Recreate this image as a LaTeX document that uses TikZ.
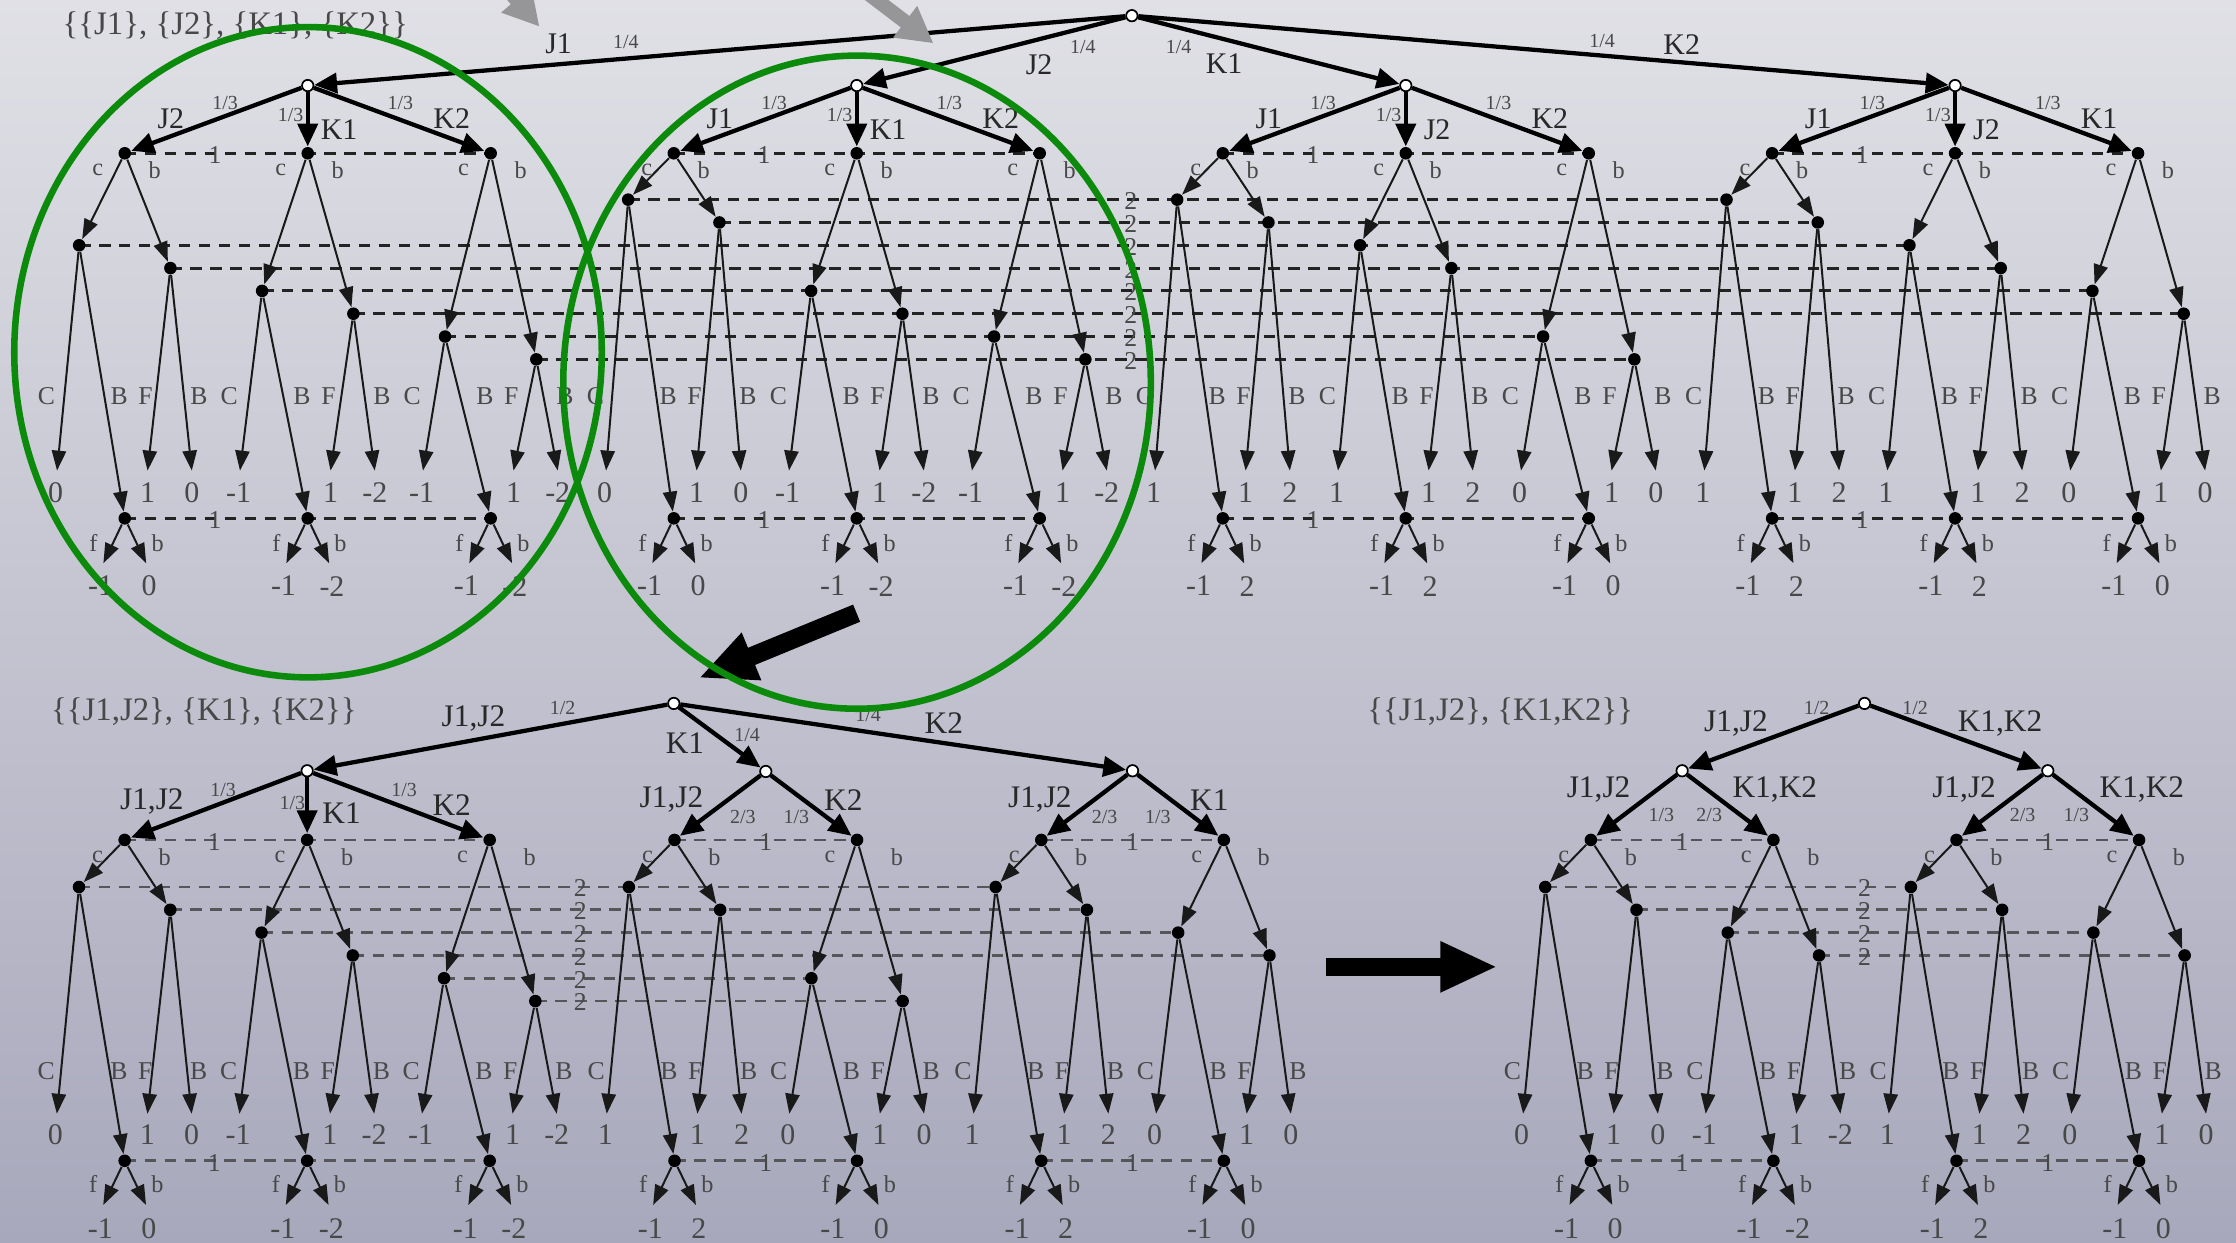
\documentclass[tikz,border=0pt]{standalone}
\usepackage{fontspec}
\setmainfont{Liberation Serif}
\usetikzlibrary{arrows.meta}
\pgfdeclarelayer{bgl}
\pgfdeclarelayer{dashl}
\pgfsetlayers{bgl,dashl,main}
\definecolor{bgtop}{RGB}{224,224,230}
\definecolor{bgbot}{RGB}{168,168,188}
\definecolor{lblc}{RGB}{40,40,40}
\definecolor{txtc}{RGB}{72,72,72}
\definecolor{edgec}{RGB}{25,25,25}
\definecolor{dashT}{RGB}{35,35,35}
\definecolor{dashB}{RGB}{85,85,90}
\definecolor{grn}{RGB}{12,138,12}
\definecolor{garr}{RGB}{150,150,152}
\tikzset{
 chance/.style={circle,draw=black,line width=0.6pt,fill=white,inner sep=0pt,minimum size=4pt},
 dec/.style={circle,fill=black,inner sep=0pt,minimum size=4.4pt},
 tedge/.style={line width=1.5pt,draw=black,-{Triangle[length=8pt,width=7pt]}},
 sedge/.style={line width=0.7pt,draw=edgec,-{Triangle[length=7pt,width=5pt]}},
 isetT/.style={line width=1pt,draw=dashT,dash pattern=on 4pt off 3pt},
 isetB/.style={line width=1pt,draw=dashB,dash pattern=on 4pt off 3pt},
 elab/.style={text=lblc,inner sep=0pt,font=\fontsize{10.5}{12}\selectfont},
 elabB/.style={text=lblc,inner sep=0pt,font=\fontsize{11}{13}\selectfont},
 prob/.style={text=txtc,inner sep=0pt,font=\fontsize{7}{8}\selectfont},
 pay/.style={text=txtc,inner sep=0pt,font=\fontsize{10.5}{12}\selectfont},
 act/.style={text=txtc,inner sep=0pt,font=\fontsize{9}{10}\selectfont},
 sact/.style={text=txtc,inner sep=0pt,font=\fontsize{8.5}{10}\selectfont},
 islab/.style={text=txtc,inner sep=0pt,font=\fontsize{9}{10}\selectfont},
 ttl/.style={text=txtc,inner sep=0pt,font=\fontsize{11.5}{13}\selectfont},
 ring/.style={draw=grn,line width=2.3pt},
 bigarrow/.style={draw=black,line width=6.5pt,-{Triangle[length=20pt,width=16.5pt]}},
 grayarrow/.style={draw=garr,line width=5pt,-{Triangle[length=12.5pt,width=13pt]}},
}
% #1 prefix, #2 x of decision node, #3 info-set level, #4..#8 payoffs (C,F,B,f,b)
\newcommand\grp[8]{%
 \pgfmathsetmacro\gcy{\gLY+32*#3}%
 \pgfmathsetmacro\gby{\gLY+32*#3+16}%
 \node[dec] (#1d) at ({#2},\gDY) {};
 \node[dec] (#1c) at ({#2-32},\gcy) {};
 \node[dec] (#1b) at ({#2+32},\gby) {};
 \node[dec] (#1t) at ({#2},\gTHY) {};
 \coordinate (#1C) at ({#2-47.5},\gTIPY);
 \coordinate (#1F) at ({#2+16},\gTIPY);
 \coordinate (#1B) at ({#2+47},\gTIPY);
 \coordinate (#1f) at ({#2-15},\gFTIPY);
 \coordinate (#1g) at ({#2+15},\gFTIPY);
 \draw[sedge] (#1d) -- (#1c);
 \draw[sedge] (#1d) -- (#1b);
 \draw[sedge] (#1c) -- (#1C);
 \draw[sedge] (#1c) -- (#1t);
 \draw[sedge] (#1b) -- (#1F);
 \draw[sedge] (#1b) -- (#1B);
 \draw[sedge] (#1t) -- (#1f);
 \draw[sedge] (#1t) -- (#1g);
 \node[sact] (#1lc) at ({#2-19},\gDY+12) {c};
 \node[sact] (#1lb) at ({#2+\gBOFF},\gDY+12) {b};
 \node[act] (#1lC) at ({#2-55},\gCBY) {C};
 \node[act] (#1lB) at ({#2-4},\gCBY) {B};
 \node[act] (#1lF) at ({#2+14.5},\gCBY) {F};
 \node[act] (#1lBB) at ({#2+52},\gCBY) {B};
 \node[sact] (#1lf) at ({#2-22},\gFBY) {f};
 \node[sact] (#1lg) at ({#2+23},\gFBY) {b};
 \node[pay] (#1pC) at ({#2-48.5},\gPAYY) {#4};
 \node[pay] (#1pF) at ({#2+16},\gPAYY) {#5};
 \node[pay] (#1pB) at ({#2+47},\gPAYY) {#6};
 \node[pay] (#1pf) at ({#2-17},\gFPAYY) {#7};
 \node[pay] (#1pg) at ({#2+17},\gFPAYY) {#8};
}
% labels of a three-way chance node of the top tree
\newcommand\tlabs[5]{%
 \node[elab] (#1la) at ({#2-96},83) {#3};
 \node[prob] (#1pa) at ({#2-58},72.4) {1/3};
 \node[prob] (#1pb) at ({#2-12},80.6) {1/3};
 \node[elab] (#1lb) at ({#2+22},91.2) {#4};
 \node[prob] (#1pc) at ({#2+65},72.4) {1/3};
 \node[elab] (#1lc) at ({#2+101},83) {#5};
}
\begin{document}
\begin{tikzpicture}[x=0.5pt,y=-0.5pt]
\useasboundingbox (0,0) rectangle (1568,871);
\begin{pgfonlayer}{bgl}
\shade[top color=bgtop,bottom color=bgbot] (0,0) rectangle (1568,871);
\end{pgfonlayer}

% ================= TOP TREE =================
\def\gDY{107.5}\def\gLY{140}\def\gCBY{278}\def\gTIPY{330}\def\gPAYY{345.5}
\def\gTHY{363.5}\def\gFBY{381}\def\gFTIPY{395}\def\gFPAYY{411}\def\gBOFF{21}

\node[ttl] (title1) at (165,18) {\{\{J1\}, \{J2\}, \{K1\}, \{K2\}\}};

\node[chance] (r1) at (793.7,11) {};
\node[chance] (t1) at (215.8,60) {};
\node[chance] (t2) at (600.8,60) {};
\node[chance] (t3) at (985.8,60) {};
\node[chance] (t4) at (1371,60) {};
\draw[tedge] (r1) -- (t1);
\draw[tedge] (r1) -- (t2);
\draw[tedge] (r1) -- (t3);
\draw[tedge] (r1) -- (t4);
\node[elab] (r1a) at (391.7,30.4) {J1};
\node[prob] (r1pa) at (438.9,29.2) {1/4};
\node[elab] (r1b) at (728.7,45.6) {J2};
\node[prob] (r1pb) at (759.3,32.7) {1/4};
\node[prob] (r1pc) at (826.5,32.7) {1/4};
\node[elab] (r1c) at (858.4,44.4) {K1};
\node[prob] (r1pd) at (1123.5,29) {1/4};
\node[elab] (r1d) at (1179.3,31.6) {K2};

% tree 1 : J1
\grp{t1x}{87.5}{1}{0}{1}{0}{-1}{0}
\grp{t1y}{215.8}{2}{-1}{1}{-2}{-1}{-2}
\grp{t1z}{344.1}{3}{-1}{1}{-2}{-1}{-2}
% tree 2 : J2
\grp{t2x}{472.5}{0}{0}{1}{0}{-1}{0}
\grp{t2y}{600.8}{2}{-1}{1}{-2}{-1}{-2}
\grp{t2z}{729.1}{3}{-1}{1}{-2}{-1}{-2}
% tree 3 : K1
\grp{t3x}{857.5}{0}{1}{1}{2}{-1}{2}
\grp{t3y}{985.8}{1}{1}{1}{2}{-1}{2}
\grp{t3z}{1114.1}{3}{0}{1}{0}{-1}{0}
% tree 4 : K2
\grp{t4x}{1242.7}{0}{1}{1}{2}{-1}{2}
\grp{t4y}{1371}{1}{1}{1}{2}{-1}{2}
\grp{t4z}{1499.3}{2}{0}{1}{0}{-1}{0}

\foreach \t in {t1,t2,t3,t4}{
 \draw[tedge] (\t) -- (\t xd);
 \draw[tedge] (\t) -- (\t yd);
 \draw[tedge] (\t) -- (\t zd);
}
\tlabs{t1}{215.8}{J2}{K1}{K2}
\tlabs{t2}{600.8}{J1}{K1}{K2}
\tlabs{t3}{985.8}{J1}{J2}{K2}
\tlabs{t4}{1371}{J1}{J2}{K1}

\foreach \t/\cx in {t1/215.8,t2/600.8,t3/985.8,t4/1371}{
 \node[islab] (\t one) at ({\cx-65},109) {1};
 \node[islab] (\t onb) at ({\cx-65},365) {1};
}
\foreach \yy/\nm in {140/a,156/b,172/c,188/d,204/e,220/f,236/g,252/h}{
 \node[islab] (two\nm) at (793,\yy+1) {2};
}
\begin{pgfonlayer}{dashl}
\foreach \t in {t1,t2,t3,t4}{
 \draw[isetT] (\t xd.center) -- (\t yd.center) -- (\t zd.center);
 \draw[isetT] (\t xt.center) -- (\t yt.center) -- (\t zt.center);
}
\draw[isetT] (t2xc.center) -- (t3xc.center) -- (t4xc.center);
\draw[isetT] (t2xb.center) -- (t3xb.center) -- (t4xb.center);
\draw[isetT] (t1xc.center) -- (t3yc.center) -- (t4yc.center);
\draw[isetT] (t1xb.center) -- (t3yb.center) -- (t4yb.center);
\draw[isetT] (t1yc.center) -- (t2yc.center) -- (t4zc.center);
\draw[isetT] (t1yb.center) -- (t2yb.center) -- (t4zb.center);
\draw[isetT] (t1zc.center) -- (t2zc.center) -- (t3zc.center);
\draw[isetT] (t1zb.center) -- (t2zb.center) -- (t3zb.center);
\end{pgfonlayer}

% ================= BOTTOM TREES =================
\def\gDY{589}\def\gLY{622}\def\gCBY{751}\def\gTIPY{781}\def\gPAYY{795.5}
\def\gTHY{814}\def\gFBY{830.5}\def\gFTIPY{845}\def\gFPAYY{861.5}\def\gBOFF{28}

\node[ttl] (title2) at (143,499) {\{\{J1,J2\}, \{K1\}, \{K2\}\}};
\node[ttl] (title3) at (1052,499) {\{\{J1,J2\}, \{K1,K2\}\}};

% bottom-left
\node[chance] (r2) at (472.5,493.3) {};
\node[chance] (b1) at (215.4,540.5) {};
\node[chance] (b2) at (537,541) {};
\node[chance] (b3) at (794.2,540.5) {};
\draw[tedge] (r2) -- (b1);
\draw[tedge] (r2) -- (b2);
\draw[tedge] (r2) -- (b3);
\node[elabB] (r2a) at (332,503.6) {J1,J2};
\node[prob] (r2pa) at (394.5,496.7) {1/2};
\node[elabB] (r2b) at (480.3,521) {K1};
\node[prob] (r2pb) at (523.9,515.5) {1/4};
\node[prob] (r2pc) at (608.7,501.4) {1/4};
\node[elabB] (r2c) at (661.9,507.3) {K2};

\grp{b1x}{87.4}{0}{0}{1}{0}{-1}{0}
\grp{b1y}{215.4}{1}{-1}{1}{-2}{-1}{-2}
\grp{b1z}{343.4}{2}{-1}{1}{-2}{-1}{-2}
\grp{b2x}{473}{0}{1}{1}{2}{-1}{2}
\grp{b2y}{601}{2}{0}{1}{0}{-1}{0}
\grp{b3x}{730.2}{0}{1}{1}{2}{-1}{2}
\grp{b3y}{858.2}{1}{0}{1}{0}{-1}{0}
\draw[tedge] (b1) -- (b1xd);
\draw[tedge] (b1) -- (b1yd);
\draw[tedge] (b1) -- (b1zd);
\draw[tedge] (b2) -- (b2xd);
\draw[tedge] (b2) -- (b2yd);
\draw[tedge] (b3) -- (b3xd);
\draw[tedge] (b3) -- (b3yd);
\node[elabB] (b1la) at (106.5,562) {J1,J2};
\node[prob] (b1pa) at (156.5,554) {1/3};
\node[prob] (b1pb) at (205,563) {1/3};
\node[elabB] (b1lb) at (239.5,570.4) {K1};
\node[prob] (b1pc) at (283.4,554) {1/3};
\node[elabB] (b1lc) at (316.8,564.6) {K2};
\node[elabB] (b2la) at (470.9,561) {J1,J2};
\node[prob] (b2pa) at (521,572.7) {2/3};
\node[prob] (b2pb) at (558.5,572.7) {1/3};
\node[elabB] (b2lb) at (591.4,561) {K2};
\node[elabB] (b3la) at (729.2,561) {J1,J2};
\node[prob] (b3pa) at (774.6,572.7) {2/3};
\node[prob] (b3pb) at (812,572.7) {1/3};
\node[elabB] (b3lb) at (848,561) {K1};

% bottom-right
\node[chance] (r3) at (1307.5,493.3) {};
\node[chance] (d1) at (1179.6,540.5) {};
\node[chance] (d2) at (1436,540.5) {};
\draw[tedge] (r3) -- (d1);
\draw[tedge] (r3) -- (d2);
\node[elabB] (r3a) at (1217.4,507.3) {J1,J2};
\node[prob] (r3pa) at (1273.9,496.8) {1/2};
\node[prob] (r3pb) at (1343,496.8) {1/2};
\node[elabB] (r3b) at (1402.5,507.3) {K1,K2};

\grp{d1x}{1115.6}{0}{0}{1}{0}{-1}{0}
\grp{d1y}{1243.6}{1}{-1}{1}{-2}{-1}{-2}
\grp{d2x}{1372}{0}{1}{1}{2}{-1}{2}
\grp{d2y}{1500}{1}{0}{1}{0}{-1}{0}
\draw[tedge] (d1) -- (d1xd);
\draw[tedge] (d1) -- (d1yd);
\draw[tedge] (d2) -- (d2xd);
\draw[tedge] (d2) -- (d2yd);
\node[elabB] (d1la) at (1121,554) {J1,J2};
\node[prob] (d1pa) at (1165,571.6) {1/3};
\node[prob] (d1pb) at (1198.6,571.6) {2/3};
\node[elabB] (d1lb) at (1244.6,554) {K1,K2};
\node[elabB] (d2la) at (1377.3,554) {J1,J2};
\node[prob] (d2pa) at (1418.4,571.6) {2/3};
\node[prob] (d2pb) at (1456,571.6) {1/3};
\node[elabB] (d2lb) at (1502,554) {K1,K2};

\foreach \t/\cx in {b1/150.3,b2/537,b3/794.2,d1/1179.6,d2/1436}{
 \node[islab] (\t one) at (\cx,590.5) {1};
 \node[islab] (\t onb) at (\cx,815.5) {1};
}
\foreach \yy/\nm in {622/a,638/b,654/c,670/d,686/e,702/f}{
 \node[islab] (twoB\nm) at (407,\yy+1) {2};
}
\foreach \yy/\nm in {622/a,638/b,654/c,670/d}{
 \node[islab] (twoC\nm) at (1307.5,\yy+1) {2};
}
\begin{pgfonlayer}{dashl}
\draw[isetB] (b1xd.center) -- (b1yd.center) -- (b1zd.center);
\draw[isetB] (b1xt.center) -- (b1yt.center) -- (b1zt.center);
\foreach \t in {b2,b3,d1,d2}{
 \draw[isetB] (\t xd.center) -- (\t yd.center);
 \draw[isetB] (\t xt.center) -- (\t yt.center);
}
\draw[isetB] (b1xc.center) -- (b2xc.center) -- (b3xc.center);
\draw[isetB] (b1xb.center) -- (b2xb.center) -- (b3xb.center);
\draw[isetB] (b1yc.center) -- (b3yc.center);
\draw[isetB] (b1yb.center) -- (b3yb.center);
\draw[isetB] (b1zc.center) -- (b2yc.center);
\draw[isetB] (b1zb.center) -- (b2yb.center);
\draw[isetB] (d1xc.center) -- (d2xc.center);
\draw[isetB] (d1xb.center) -- (d2xb.center);
\draw[isetB] (d1yc.center) -- (d2yc.center);
\draw[isetB] (d1yb.center) -- (d2yb.center);
\end{pgfonlayer}

% ================= ANNOTATIONS =================
\coordinate (ba1s) at (600.7,430);
\coordinate (ba1e) at (490,475.5);
\draw[bigarrow] (ba1s) -- (ba1e);
\coordinate (ba2s) at (930,678);
\coordinate (ba2e) at (1050,678);
\draw[bigarrow] (ba2s) -- (ba2e);

\draw[ring] (216,247) ellipse [x radius=103pt, y radius=114pt];
\draw[ring] (601,268) ellipse [x radius=103pt, y radius=114.5pt];

\begin{scope}
\clip (0,0) rectangle (1568,871);
\coordinate (ga1s) at (339,-27);
\coordinate (ga1e) at (378.3,18.7);
\draw[grayarrow] (ga1s) -- (ga1e);
\coordinate (ga2s) at (599,-12);
\coordinate (ga2e) at (654.6,30.4);
\draw[grayarrow] (ga2s) -- (ga2e);
\end{scope}
\end{tikzpicture}
\end{document}
